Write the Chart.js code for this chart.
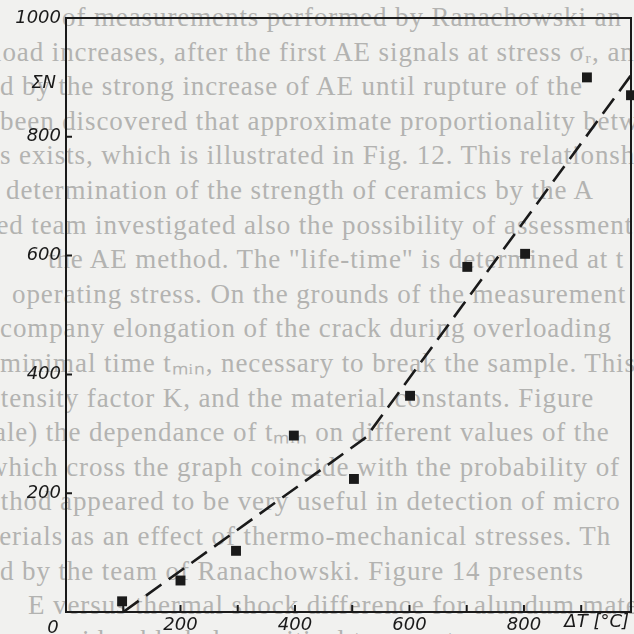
<!DOCTYPE html>
<html>
<head>
<meta charset="utf-8">
<script src="https://cdn.jsdelivr.net/npm/chart.js@4/dist/chart.umd.min.js"></script>
<style>
  html, body { margin: 0; padding: 0; background: #f1f1ef; }
  #wrap { position: relative; width: 634px; height: 634px; overflow: hidden; }
  #page { position: absolute; left: 0; top: 0; width: 634px; height: 634px;
          font-family: "Liberation Serif", serif; font-size: 27px; letter-spacing: 0.9px;
          color: #b3b3b1; }
  #page div { position: absolute; white-space: nowrap; line-height: 27px; }
  #chart { position: absolute; left: 0; top: 0; }
</style>
</head>
<body>
<div id="wrap">
  <div id="page"></div>
  <canvas id="chart" width="634" height="634"></canvas>
</div>
<script>
// Thermal shock difference (°C) and cumulative AE counts
const deltaT   = [98, 200, 297, 398, 503, 601, 701, 802, 910, 987];
const sumN     = [18, 53, 103, 297, 224, 364, 581, 603, 900, 870];

// Dashed trend line
const trendT   = [100, 524, 988];
const trendN   = [0, 294, 905];

// Axis ticks
const xTickLabels = [200, 400, 600, 800];
const yTickLabels = [200, 400, 600, 800, 1000];
const xTitle = 'ΔT [°C]';
const yTitle = 'ΣN';

// Body text printed on the page underneath the figure
const pageLines = [
  'of measurements performed by Ranachowski an',
  'load increases, after the first AE signals at stress σ\u1D63, an',
  'd by the strong increase of AE until rupture of the',
  'been discovered that approximate proportionality betw',
  's exists, which is illustrated in Fig. 12. This relationship',
  'determination  of  the  strength  of  ceramics  by  the  A',
  'ted team investigated also the possibility of assessment',
  'the AE method. The "life-time" is determined at t',
  'operating stress. On the grounds of the measurement',
  'company elongation of the crack during overloading',
  'minimal time t\u2098\u1D62\u2099, necessary to break the sample. This',
  'intensity factor K, and the material constants. Figure',
  'ale) the dependance of t\u2098\u1D62\u2099 on different values of the',
  'which cross the graph coincide with the probability of',
  'method appeared to be very useful in detection of micro',
  'materials as an effect of thermo-mechanical stresses. Th',
  'd  by  the  team  of  Ranachowski.  Figure  14  presents',
  'E versus thermal shock difference for alundum mate',
  'rs considerably below critical temperature'
];
const pageLeft = [62, -6, 0, 0, 0, 6, -12, 48, 12, 0, 0, -22, -6, -12, -34, -44, 0, 28, 0];

const page = document.getElementById('page');
pageLines.forEach((t, i) => {
  const d = document.createElement('div');
  d.textContent = t;
  d.style.left = pageLeft[i] + 'px';
  d.style.top = (4 + i * 34.6) + 'px';
  page.appendChild(d);
});

const INK = '#1a1a1a';
const TICK_FONT = { family: 'DejaVu Sans', style: 'italic', size: 18 };

const frameAndTicks = {
  id: 'frameAndTicks',
  afterDraw(chart) {
    const { ctx, chartArea: a, scales: { x, y } } = chart;
    ctx.save();
    ctx.strokeStyle = INK;
    ctx.lineWidth = 2;
    ctx.strokeRect(a.left, a.top, a.right - a.left, a.bottom - a.top);
    ctx.beginPath();
    x.ticks.forEach(t => {
      if (t.value <= 0) return;
      const px = x.getPixelForValue(t.value);
      ctx.moveTo(px, a.bottom);
      ctx.lineTo(px, a.bottom - 7);
    });
    y.ticks.forEach(t => {
      if (t.value <= 0 || t.value >= y.max) return;
      const py = y.getPixelForValue(t.value);
      ctx.moveTo(a.left, py);
      ctx.lineTo(a.left + 6, py);
    });
    ctx.stroke();

    ctx.fillStyle = INK;
    ctx.font = 'italic 18px "DejaVu Sans"';
    ctx.textBaseline = 'middle';
    ctx.textAlign = 'center';
    ctx.fillText('0', x.getPixelForValue(0) - 13, a.bottom + 16);
    ctx.textAlign = 'right';
    ctx.fillText(xTitle, a.right - 2, a.bottom + 10);
    ctx.fillText(yTitle, a.left - 10, y.getPixelForValue(890));
    ctx.restore();
  }
};

new Chart(document.getElementById('chart'), {
  type: 'scatter',
  data: {
    datasets: [
      {
        label: 'ΣN',
        data: deltaT.map((t, i) => ({ x: t, y: sumN[i] })),
        pointStyle: 'rect',
        pointRadius: 7,
        pointHoverRadius: 7,
        backgroundColor: INK,
        borderWidth: 0,
        showLine: false,
        clip: false
      },
      {
        label: 'trend',
        type: 'line',
        data: trendT.map((t, i) => ({ x: t, y: trendN[i] })),
        borderColor: INK,
        borderWidth: 2.6,
        borderDash: [19, 9],
        pointRadius: 0,
        fill: false,
        tension: 0
      }
    ]
  },
  options: {
    responsive: false,
    animation: false,
    devicePixelRatio: 1,
    layout: { autoPadding: false, padding: { top: 18, right: 3, left: 0, bottom: 0 } },
    plugins: { legend: { display: false }, tooltip: { enabled: false } },
    scales: {
      x: {
        type: 'linear',
        min: 0,
        max: 987,
        afterFit(s) { s.height = 22; },
        border: { display: true, color: INK, width: 2 },
        grid: { display: false, drawTicks: false },
        ticks: {
          stepSize: 100,
          includeBounds: false,
          autoSkip: false,
          maxRotation: 0,
          padding: 3,
          color: INK,
          font: TICK_FONT,
          callback: v => xTickLabels.includes(v) ? String(v) : ''
        }
      },
      y: {
        type: 'linear',
        min: 0,
        max: 1000,
        afterFit(s) { s.width = 66; },
        border: { display: true, color: INK, width: 2 },
        grid: { display: false, drawTicks: false },
        ticks: {
          stepSize: 200,
          autoSkip: false,
          padding: 5,
          color: INK,
          font: TICK_FONT,
          callback: v => yTickLabels.includes(v) ? String(v) : ''
        }
      }
    }
  },
  plugins: [frameAndTicks]
});
</script>
</body>
</html>
